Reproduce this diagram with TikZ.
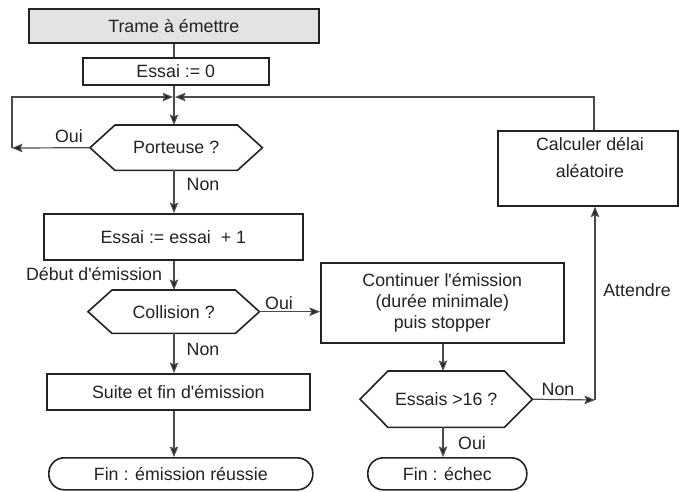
\documentclass[tikz,border=0pt]{standalone}
\usepackage{fontspec}
\setmainfont{Liberation Sans}
\usetikzlibrary{arrows.meta,calc}

\definecolor{ink}{HTML}{222222}
\definecolor{wire}{HTML}{4A4A4A}
\definecolor{headfill}{HTML}{E3E3E3}

\newcommand\apos{\textquotesingle}
% hexagonal decision outline drawn around a bare rectangle node
\newcommand\hexframe[2]{%
  \draw[ink, line width=1.6pt, line join=miter]
    (#1.west) -- ([xshift=#2pt]#1.north west) -- ([xshift=-#2pt]#1.north east)
    -- (#1.east) -- ([xshift=-#2pt]#1.south east) -- ([xshift=#2pt]#1.south west) -- cycle;}

\tikzset{
  base/.style={inner sep=0pt, text=ink, font=\fontsize{17.8}{21}\selectfont},
  stepbox/.style={base, rectangle, draw=ink, line width=1.6pt, anchor=north west},
  hexcell/.style={base, rectangle, anchor=north west},
  endcap/.style={stepbox, rounded corners=15.5pt},
  lbl/.style={base},
  wireline/.style={draw=wire, line width=1.2pt},
  arr/.style={wireline, -{Stealth[length=10.5pt,width=8.5pt,inset=1.8pt,fill=ink]}},
}

\begin{document}
\begin{tikzpicture}[x=1pt, y=-1pt]
\useasboundingbox (0,0) rectangle (679,491);

% left column
\node[stepbox, fill=headfill, minimum width=290pt, minimum height=34pt] (trame) at (28,8) {Trame à émettre};
\node[stepbox, minimum width=186pt, minimum height=27pt] (essai0) at (82,57) {Essai := 0};
\node[hexcell, minimum width=172pt, minimum height=45pt] (porteuse) at (90,125) {Porteuse ?};
\hexframe{porteuse}{25}
\node[stepbox, minimum width=259pt, minimum height=46pt] (essai1) at (43,213) {Essai := essai~~+ 1};
\node[hexcell, minimum width=171pt, minimum height=43pt] (collision) at (88,290) {Collision ?};
\hexframe{collision}{24}
\node[stepbox, minimum width=263pt, minimum height=36pt] (suite) at (46,373) {Suite et fin d\apos émission};
\node[endcap, minimum width=264pt, minimum height=32pt] (finok) at (48,457) {Fin : émission réussie};

% right column
\node[stepbox, minimum width=243pt, minimum height=80pt, align=center] (continuer) at (320,262)
  {Continuer l\apos émission\\(durée minimale)\\puis stopper};
\node[hexcell, minimum width=172pt, minimum height=56pt] (essais16) at (360,371) {Essais >16 ?};
\hexframe{essais16}{28}
\node[endcap, minimum width=159pt, minimum height=32pt] (finko) at (367,457) {Fin : échec};
\node[stepbox, minimum width=180pt, minimum height=75pt] (calc) at (497,130) {};
\node[base, align=center, font=\fontsize{17.8}{27}\selectfont] (calctext) at (590,158) {Calculer délai\\aléatoire};

% routing points
\coordinate (spine) at (174,0);
\coordinate (j) at (174,97);
\coordinate (lb) at (12,148);
\coordinate (rx) at (594,0);
\coordinate (bend) at (595,400);
\coordinate (cx) at (443,0);

% connectors
\draw[wireline] (trame.south -| spine) -- (essai0.north -| spine);
\draw[wireline] (essai0.south -| spine) -- (j);
\draw[arr] (j) -- (porteuse.north -| spine);
\draw[arr] (porteuse.west) -- (lb);
\draw[arr, shorten >=1pt] (lb) |- (j);
\draw[arr, shorten >=1pt] (calc.north -| rx) |- (j);
\draw[arr] (porteuse.south -| spine) -- (essai1.north -| spine);
\draw[arr] (essai1.south -| spine) -- (collision.north -| spine);
\draw[arr] (collision.east) -- (collision.east -| continuer.west);
\draw[arr] (collision.south -| spine) -- (suite.north -| spine);
\draw[arr] (suite.south -| spine) -- (finok.north -| spine);
\draw[arr] (continuer.south -| cx) -- (essais16.north -| cx);
\draw[arr] (essais16.south -| cx) -- (finko.north -| cx);
\draw[arr] (essais16.east) -- (bend);
\draw[arr] (bend) -- (calc.south -| bend);

% branch labels
\node[lbl] (ouiP) at (69,136) {Oui};
\node[lbl] (nonP) at (203,184) {Non};
\node[lbl] (debut) at (94,274) {Début d\apos émission};
\node[lbl] (ouiC) at (279,303) {Oui};
\node[lbl] (nonC) at (203,349) {Non};
\node[lbl] (nonE) at (558,389) {Non};
\node[lbl] (ouiE) at (472,443) {Oui};
\node[lbl] (attendre) at (637,290) {Attendre};
\end{tikzpicture}
\end{document}
